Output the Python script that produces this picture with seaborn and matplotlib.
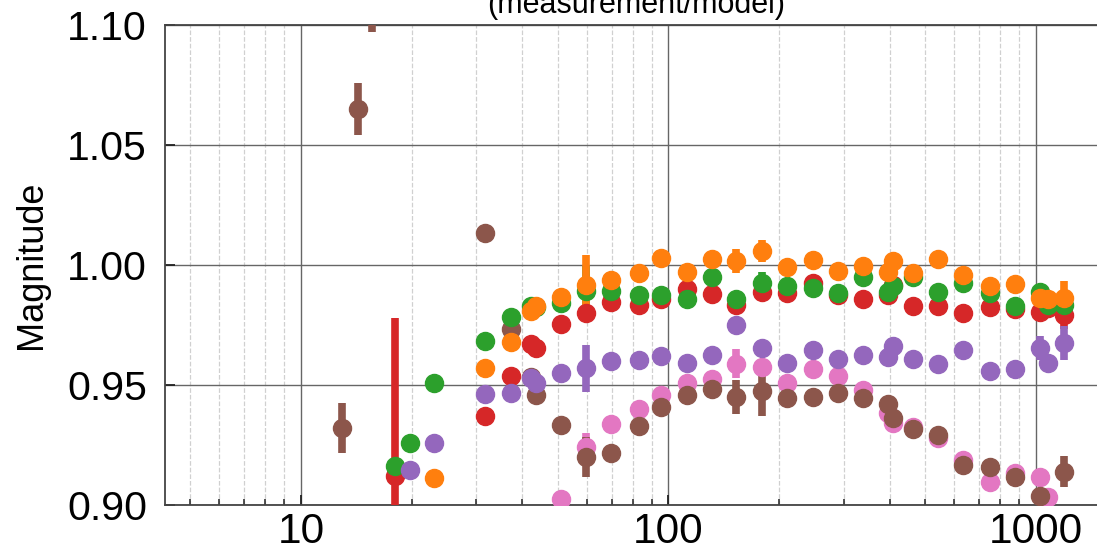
import numpy as np
import pandas as pd
import matplotlib
matplotlib.use("Agg")
import matplotlib.pyplot as plt
import seaborn as sns

N = np.nan

# frequencies of the measurement points
freq = [12.9, 14.3, 15.6, 18.0, 19.8, 23.0, 31.6, 37.2, 42.2, 43.6, 51.0,
        59.8, 69.9, 83.1, 95.7, 112, 131, 153, 180, 210, 247, 289, 338,
        397, 408, 463, 543, 635, 748, 875, 1023, 1081, 1195]

red = [N, N, N, 0.9121, N, N, 0.937, 0.9537, 0.967, 0.9654, 0.9754,
       0.980, 0.9847, 0.9833, 0.986, 0.990, 0.9879, 0.9833, 0.9889, 0.9885, 0.9925, 0.9875, 0.986,
       0.9875, 0.9917, 0.9829, 0.9829, 0.9801, 0.9826, 0.9815, 0.9806, 0.982, 0.9792]
red_err = [0, 0, 0, 0.0657, 0, 0, 0, 0, 0, 0, 0,
           0, 0, 0, 0, 0, 0, 0, 0, 0, 0, 0, 0,
           0, 0, 0, 0, 0, 0, 0, 0, 0, 0.006]

green = [N, N, N, 0.9162, 0.926, 0.9508, 0.9685, 0.9783, 0.983, 0.9825, 0.984,
         0.989, 0.989, 0.9875, 0.9875, 0.986, 0.9951, 0.986, 0.9925, 0.9913, 0.9905, 0.9883, 0.995,
         0.9889, 0.9913, 0.9951, 0.9889, 0.9925, 0.9883, 0.9829, 0.9889, 0.9833, 0.9833]
green_err = [0, 0, 0, 0, 0, 0, 0, 0, 0, 0, 0,
             0.0105, 0, 0, 0, 0, 0, 0, 0.0047, 0, 0, 0, 0,
             0, 0, 0, 0, 0, 0, 0, 0, 0, 0]

orange = [N, N, N, N, N, 0.9112, 0.957, 0.968, 0.981, 0.983, 0.9867,
          0.9917, 0.9938, 0.9968, 1.0029, 0.997, 1.0025, 1.0017, 1.0058, 0.9992, 1.0021, 0.9976, 0.9997,
          0.9972, 1.0017, 0.9967, 1.0025, 0.9958, 0.9913, 0.992, 0.9863, 0.986, 0.9863]
orange_err = [0, 0, 0, 0, 0, 0, 0, 0, 0, 0, 0,
              0.0125, 0, 0, 0, 0, 0, 0.005, 0.0046, 0, 0, 0, 0,
              0, 0, 0, 0, 0, 0, 0, 0.004, 0.003, 0.007]

purple = [N, N, N, N, 0.9146, 0.926, 0.9462, 0.9467, 0.953, 0.951, 0.955,
          0.957, 0.960, 0.9604, 0.962, 0.959, 0.9625, 0.975, 0.9654, 0.9592, 0.9646, 0.961, 0.9625,
          0.9618, 0.9662, 0.9608, 0.9588, 0.9646, 0.9558, 0.9567, 0.9654, 0.9593, 0.9675]
purple_err = [0, 0, 0, 0, 0.003, 0.003, 0, 0, 0, 0, 0,
              0.0098, 0, 0, 0, 0, 0, 0, 0, 0, 0, 0, 0,
              0, 0, 0, 0, 0, 0, 0, 0.005, 0, 0.007]

pink = [N, N, N, N, N, N, N, N, N, N, 0.9025,
        0.924, 0.9338, 0.940, 0.9458, 0.951, 0.9525, 0.9588, 0.9576, 0.951, 0.9567, 0.9539, 0.948,
        0.9383, 0.934, 0.9326, 0.9279, 0.9186, 0.9096, 0.9133, 0.9118, 0.9035, N]
pink_err = [0, 0, 0, 0, 0, 0, 0, 0, 0, 0, 0,
            0.006, 0, 0, 0, 0, 0, 0.006, 0, 0, 0, 0, 0,
            0, 0, 0, 0, 0, 0, 0, 0, 0.003, 0]

brown = [0.932, 1.065, 1.108, N, N, N, 1.0135, 0.9733, 0.9535, 0.946, 0.9333,
         0.920, 0.9217, 0.933, 0.9408, 0.946, 0.9483, 0.9451, 0.9475, 0.9447, 0.9451, 0.9465, 0.9447,
         0.9421, 0.9364, 0.9317, 0.9292, 0.9167, 0.916, 0.9118, 0.9039, N, 0.9139]
brown_err = [0.0105, 0.011, 0.011, 0, 0, 0, 0, 0, 0, 0, 0,
             0.0085, 0, 0, 0, 0, 0, 0.007, 0.0104, 0, 0, 0, 0,
             0, 0, 0, 0, 0, 0, 0, 0, 0, 0.0064]

pal = sns.color_palette("tab10")
# drawing order as seen in the overlaps
series = [
    ("pink", pink, pink_err, pal[6]),
    ("brown", brown, brown_err, pal[5]),
    ("red", red, red_err, pal[3]),
    ("green", green, green_err, pal[2]),
    ("orange", orange, orange_err, pal[1]),
    ("purple", purple, purple_err, pal[4]),
]

sns.set_style("ticks")
plt.rcParams['font.family'] = ['Liberation Sans', 'DejaVu Sans']
plt.rcParams['text.color'] = 'black'
plt.rcParams['axes.labelcolor'] = 'black'
plt.rcParams['xtick.color'] = 'black'
plt.rcParams['ytick.color'] = 'black'

fig = plt.figure(figsize=(10.97, 5.53), dpi=100)
ax = fig.add_axes([165 / 1097, 48 / 553, 942 / 1097, 480 / 553])

for name, vals, errs, col in series:
    df = pd.DataFrame({'freq': freq, 'val': vals, 'err': errs}).dropna()
    ax.errorbar(df['freq'], df['val'], yerr=df['err'], fmt='o', ms=13,
                color=col, mec=col, elinewidth=5.5, capsize=0, zorder=3)

ax.set_xscale('log')
ax.set_xlim(4.265, 1561)
ax.set_ylim(0.90, 1.10)
ax.set_yticks([0.90, 0.95, 1.00, 1.05, 1.10])
ax.set_yticklabels(['0.90', '0.95', '1.00', '1.05', '1.10'])
ax.set_xticks([10, 100, 1000])
ax.set_xticklabels(['10', '100', '1000'])

ax.grid(which='major', color='#666666', lw=1.0, zorder=0)
ax.grid(which='minor', axis='x', color='#d0d0d0', ls='--', lw=0.9, zorder=0)
ax.set_axisbelow(True)

ax.tick_params(axis='both', which='major', direction='in', length=7, width=1.3,
               labelsize=29.5, color='#222222', labelcolor='black')
ax.tick_params(axis='y', pad=13)
ax.tick_params(axis='x', pad=5, labelsize=30.5)
ax.tick_params(axis='x', which='minor', direction='in', length=4, width=1.1, color='#222222')
ax.tick_params(axis='y', which='minor', left=False)
for s in ax.spines.values():
    s.set_color('#444444')
    s.set_linewidth(1.3)

ax.set_ylabel('Magnitude', fontsize=26, labelpad=13, color='black')
fig.text(636 / 1097, 1 - 13 / 553, '(measurement/model)', fontsize=22,
         ha='center', va='baseline', color='black')

fig.savefig('out.png', dpi=100)
